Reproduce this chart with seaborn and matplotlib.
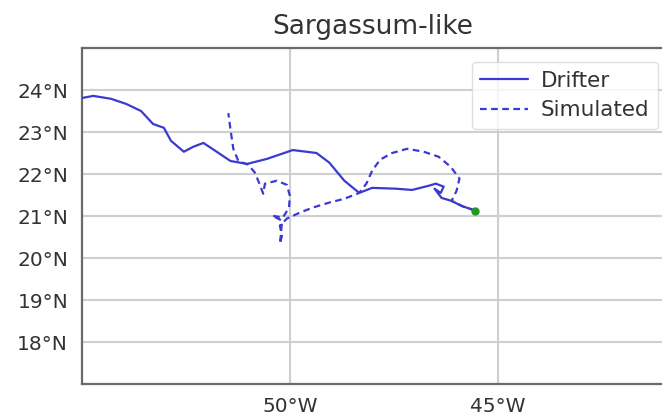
import matplotlib
matplotlib.use("Agg")
import matplotlib.pyplot as plt
from matplotlib.ticker import FixedLocator, FuncFormatter
import seaborn as sns
import pandas as pd

# Observed drifter track (degrees east / north)
drifter_lon = [-55.10, -54.73, -54.30, -53.94, -53.58, -53.29, -53.03, -52.86,
               -52.55, -52.32, -52.08, -51.79, -51.43, -51.03, -50.55, -49.93,
               -49.36, -49.05, -48.69, -48.33, -48.02, -47.45, -47.06, -46.66,
               -46.49, -46.30, -46.37, -46.52, -46.35, -46.11, -45.87, -45.54]
drifter_lat = [23.79, 23.86, 23.79, 23.67, 23.50, 23.19, 23.10, 22.79,
               22.53, 22.65, 22.74, 22.55, 22.31, 22.24, 22.36, 22.57,
               22.50, 22.27, 21.84, 21.55, 21.67, 21.65, 21.62, 21.72,
               21.77, 21.70, 21.55, 21.65, 21.43, 21.36, 21.24, 21.13]

# Simulated particle track
sim_lon = [-45.54, -45.82, -46.11, -45.99, -45.92, -46.13, -46.42, -46.78,
           -47.18, -47.54, -47.83, -48.02, -48.16, -48.33, -48.69, -49.05,
           -49.45, -49.76, -50.07, -50.24, -50.19, -50.24, -50.21, -50.19,
           -50.43, -50.17, -50.02, -50.00, -50.07, -50.31, -50.60, -50.64,
           -50.72, -50.84, -51.00, -51.24, -51.36, -51.43, -51.48]
sim_lat = [21.13, 21.22, 21.36, 21.60, 21.89, 22.17, 22.41, 22.53,
           22.60, 22.50, 22.34, 22.08, 21.77, 21.55, 21.41, 21.32,
           21.20, 21.08, 20.94, 20.77, 20.53, 20.34, 20.60, 20.89,
           21.01, 20.96, 21.20, 21.48, 21.74, 21.84, 21.77, 21.53,
           21.74, 22.03, 22.22, 22.31, 22.60, 23.07, 23.45]

# Release point
start_lon = [-45.54]
start_lat = [21.13]

lon_ticks = [-50, -45]
lat_ticks = [18, 19, 20, 21, 22, 23, 24]
title = "Sargassum-like"

sns.set_style("white")
plt.rcParams["font.family"] = ["DejaVu Sans"]

W, H = 662, 416
fig = plt.figure(figsize=(W / 100, H / 100), dpi=100)
ax = fig.add_axes([82 / W, 1 - 384 / H, (664 - 82) / W, (384 - 48) / H])

line_color = "#3a3ad2"
df_d = pd.DataFrame({"lon": drifter_lon, "lat": drifter_lat})
df_s = pd.DataFrame({"lon": sim_lon, "lat": sim_lat})

sns.lineplot(data=df_d, x="lon", y="lat", sort=False, estimator=None,
             color=line_color, lw=1.6, ax=ax, label="Drifter", zorder=3)
sns.lineplot(data=df_s, x="lon", y="lat", sort=False, estimator=None,
             color=line_color, lw=1.6, ax=ax, label="Simulated",
             linestyle=(0, (3, 2)), zorder=3)
ax.plot(start_lon, start_lat, "o", color="#1f9a1f", ms=5, zorder=4)

ax.set_xlim(-55, -41)
ax.set_ylim(17, 25)

ax.xaxis.set_major_locator(FixedLocator(lon_ticks))
ax.yaxis.set_major_locator(FixedLocator(lat_ticks))
ax.xaxis.set_major_formatter(FuncFormatter(lambda v, p: f"{abs(v):.0f}\u00b0W"))
ax.yaxis.set_major_formatter(FuncFormatter(lambda v, p: f"{v:.0f}\u00b0N"))
ax.tick_params(axis="both", length=0, labelsize=14.5, colors="#333333")
ax.tick_params(axis="x", pad=9)
ax.tick_params(axis="y", pad=10)
ax.set_xlabel("")
ax.set_ylabel("")

ax.grid(True, color="#cfcfcf", lw=1.5)
ax.set_axisbelow(True)
for s in ax.spines.values():
    s.set_color("#6a6a6a")
    s.set_linewidth(1.6)

ax.set_title(title, fontsize=19, color="#333333", pad=10)

leg = ax.legend(loc="upper right", bbox_to_anchor=(658 / W, 1 - 62 / H),
                bbox_transform=fig.transFigure, borderaxespad=0,
                fontsize=15.5, frameon=True, fancybox=True,
                handlelength=2.2, handletextpad=0.6, labelspacing=0.45)
leg.get_frame().set_edgecolor("#d8d8d8")
for t in leg.get_texts():
    t.set_color("#333333")

fig.savefig("out.png", dpi=100)
